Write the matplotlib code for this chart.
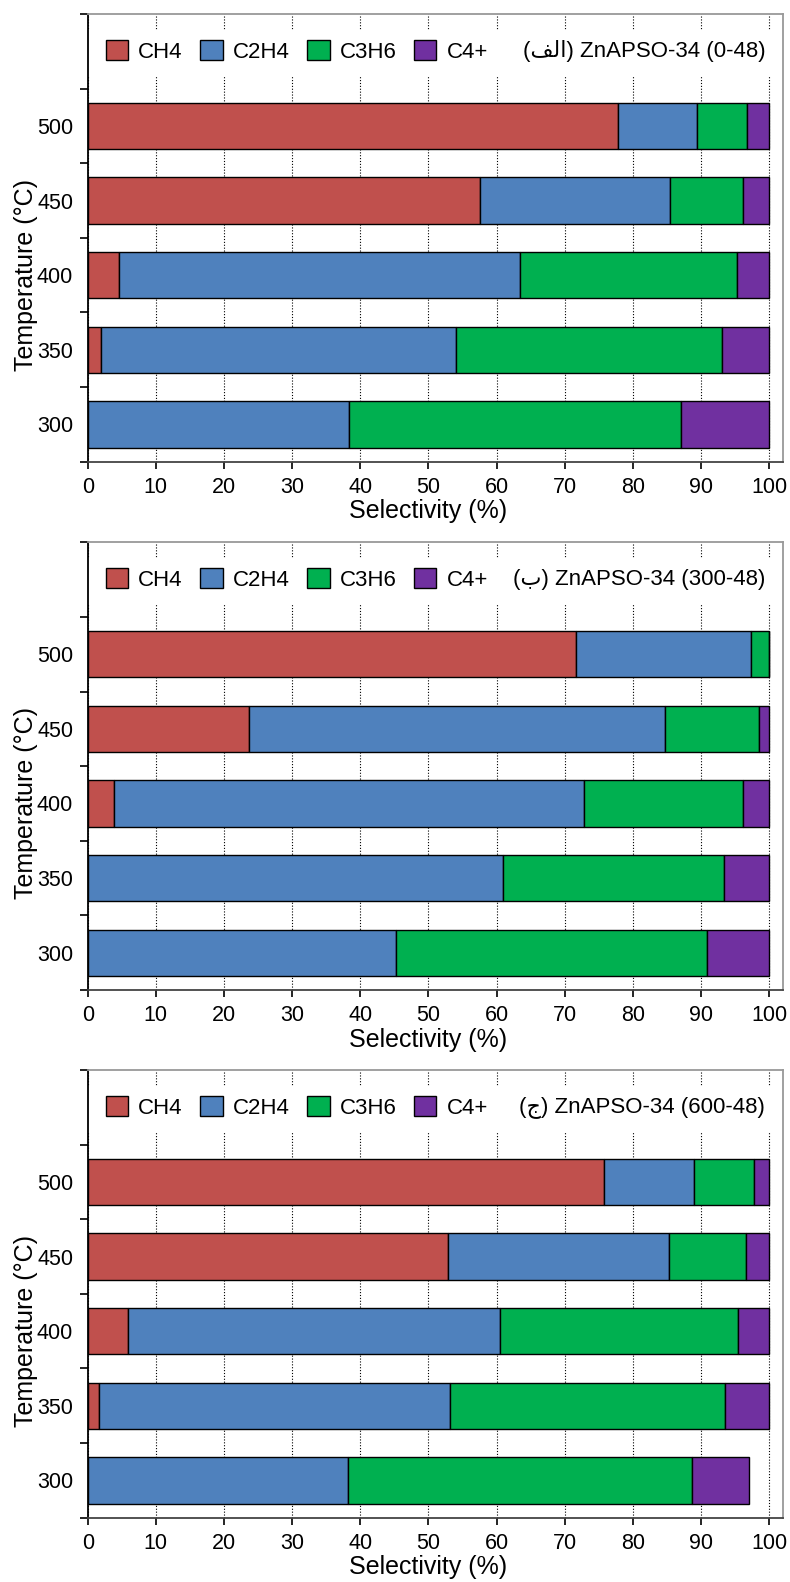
import numpy as np
import matplotlib
matplotlib.use('Agg')
import matplotlib.pyplot as plt

plt.rcParams['font.family'] = ['Liberation Sans', 'DejaVu Sans']

temps = ['300', '350', '400', '450', '500']
species = ['CH4', 'C2H4', 'C3H6', 'C4+']
colors = ['#C0504D', '#4F81BD', '#00B050', '#7030A0']

# selectivity (%) per temperature, 300 -> 500
p1_ch4 = [0, 1.9, 4.6, 57.6, 77.8]
p1_c2h4 = [38.4, 52.1, 58.9, 27.8, 11.6]
p1_c3h6 = [48.7, 39.1, 31.7, 10.7, 7.3]
p1_c4 = [12.9, 6.9, 4.8, 3.9, 3.3]

p2_ch4 = [0, 0, 3.8, 23.6, 71.6]
p2_c2h4 = [45.3, 61.0, 69.0, 61.1, 25.7]
p2_c3h6 = [45.6, 32.4, 23.3, 13.8, 2.7]
p2_c4 = [9.1, 6.6, 3.9, 1.5, 0]

p3_ch4 = [0, 1.7, 5.9, 52.8, 75.8]
p3_c2h4 = [38.2, 51.4, 54.6, 32.5, 13.1]
p3_c3h6 = [50.4, 40.4, 34.9, 11.3, 8.8]
p3_c4 = [8.4, 6.5, 4.6, 3.4, 2.3]

# Arabic letters written in visual (left-to-right) order
titles = ['(\ufed2\ufedf\u0627) ZnAPSO-34 (0-48)',
          '(\u0628) ZnAPSO-34 (300-48)',
          '(\u062c) ZnAPSO-34 (600-48)']

panels = [
    [p1_ch4, p1_c2h4, p1_c3h6, p1_c4],
    [p2_ch4, p2_c2h4, p2_c3h6, p2_c4],
    [p3_ch4, p3_c2h4, p3_c3h6, p3_c4],
]

fig = plt.figure(figsize=(7.9, 15.82), dpi=100)
boxes = [0.70815, 0.3742, 0.04065]
left, width, height = 0.111, 0.880, 0.283


def draw_panel(ax, series, title):
    y = np.arange(len(temps))
    base = np.zeros(len(temps))
    bars = []
    for vals, name, c in zip(series, species, colors):
        vals = np.array(vals, dtype=float)
        b = ax.barh(y, vals, left=base, height=0.62, color=c,
                    edgecolor='black', linewidth=1.0, label=name, zorder=3)
        bars.append(b)
        base = base + vals

    ax.set_xlim(0, 102)
    ax.set_ylim(-0.5, 5.5)

    ax.set_xticks(np.arange(0, 101, 10))
    ax.tick_params(axis='x', direction='out', length=5, width=1.2,
                   labelsize=15.5, pad=6)
    ax.set_yticks(np.arange(-0.5, 6, 1))
    ax.set_yticklabels([])
    ax.tick_params(axis='y', which='major', direction='out', length=6, width=1.2)
    ax.set_yticks(y, minor=True)
    ax.set_yticklabels(temps, minor=True)
    ax.tick_params(axis='y', which='minor', length=0, labelsize=15.5, pad=10.5)

    ax.set_axisbelow(True)
    ax.xaxis.grid(True, color='black', linestyle=(0, (1, 1.6)), linewidth=0.8)

    # blank band behind the legend row
    ax.axhspan(4.68, 5.29, color='white', zorder=1)

    for side in ['top', 'right']:
        ax.spines[side].set_color('#999999')
        ax.spines[side].set_linewidth(1.3)
    ax.spines['left'].set_color('black')
    ax.spines['left'].set_linewidth(1.3)
    ax.spines['bottom'].set_color('#444444')
    ax.spines['bottom'].set_linewidth(1.3)

    ax.set_xlabel('Selectivity (%)', fontsize=18, labelpad=0)
    ax.xaxis.set_label_coords(50 / 102, -0.084)
    ax.set_ylabel('Temperature (\u00b0C)', fontsize=18)
    ax.yaxis.set_label_coords(-0.071, 0.418)

    ax.legend(handles=bars, loc='center left', bbox_to_anchor=(0.0263, 5.0 / 6.0 + 0.5 / 6.0),
              ncol=4, frameon=False, fontsize=16, handlelength=1.0, handleheight=1.0,
              handletextpad=0.45, columnspacing=0.8, borderpad=0, borderaxespad=0)
    ax.text(99.4, 5.0, title, ha='right', va='center', fontsize=16, zorder=4)


for b, series, title in zip(boxes, panels, titles):
    ax = fig.add_axes([left, b, width, height])
    draw_panel(ax, series, title)

plt.savefig('out.png', dpi=100)
